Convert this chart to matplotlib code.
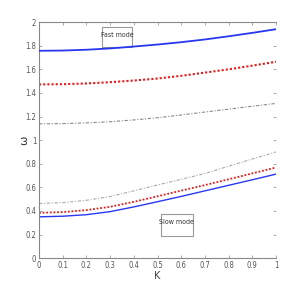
import numpy as np
import matplotlib
matplotlib.use("Agg")
import matplotlib.pyplot as plt
from matplotlib.patches import Rectangle

k = [0.0, 0.1, 0.2, 0.3, 0.4, 0.5, 0.6, 0.7, 0.8, 0.9, 1.0]
fast_blue = [1.757, 1.759, 1.766, 1.777, 1.793, 1.810, 1.830, 1.853, 1.880, 1.909, 1.940]
fast_red = [1.472, 1.474, 1.480, 1.491, 1.505, 1.522, 1.545, 1.572, 1.600, 1.631, 1.664]
fast_gray = [1.138, 1.140, 1.146, 1.156, 1.171, 1.190, 1.213, 1.238, 1.262, 1.287, 1.311]
slow_gray = [0.463, 0.470, 0.490, 0.522, 0.570, 0.620, 0.668, 0.717, 0.779, 0.840, 0.900]
slow_red = [0.384, 0.390, 0.407, 0.435, 0.477, 0.524, 0.572, 0.619, 0.668, 0.718, 0.768]
slow_blue = [0.350, 0.355, 0.368, 0.394, 0.434, 0.478, 0.523, 0.570, 0.617, 0.664, 0.712]

xticks = [0, 0.1, 0.2, 0.3, 0.4, 0.5, 0.6, 0.7, 0.8, 0.9, 1]
xticklabels = ["0", "0.1", "0.2", "0.3", "0.4", "0.5", "0.6", "0.7", "0.8", "0.9", "1"]
yticks = [0, 0.2, 0.4, 0.6, 0.8, 1, 1.2, 1.4, 1.6, 1.8, 2]
yticklabels = ["0", "0.2", "0.4", "0.6", "0.8", "1", "1.2", "1.4", "1.6", "1.8", "2"]

fig = plt.figure(figsize=(3.05, 2.91), dpi=100)
ax = fig.add_axes([0.128, 0.113, 0.777, 0.811])

blue = "#2838f0"
red = "#e81818"
gray = "#8a8a8a"

ax.plot(k, fast_blue, color=blue, lw=1.3, ls="-", zorder=7)
ax.plot(k, fast_red, color=red, lw=1.5, ls=(0, (1, 1)))
ax.plot(k, fast_gray, color=gray, lw=0.8, ls=(0, (3, 1.5, 1, 1.5)))
ax.plot(k, slow_gray, color="#aaaaaa", lw=0.8, ls=(0, (3, 1.5, 1, 1.5)))
ax.plot(k, slow_red, color=red, lw=1.3, ls=(0, (1, 1)))
ax.plot(k, slow_blue, color=blue, lw=1.0, ls="-")

ax.set_xlim(0, 1)
ax.set_ylim(0, 2)
ax.set_xticks(xticks)
ax.set_xticklabels(xticklabels)
ax.set_yticks(yticks)
ax.set_yticklabels(yticklabels)

for lab in ax.get_xticklabels() + ax.get_yticklabels():
    lab.set_fontsize(5.5)
    lab.set_color("#555555")
    lab.set_fontstretch("condensed")

ax.tick_params(direction="in", length=2.5, width=0.5, color="#888888",
               top=True, right=True, pad=2)
for s in ["left", "bottom", "top"]:
    ax.spines[s].set_color("#888888")
    ax.spines[s].set_linewidth(0.8)
ax.spines["right"].set_visible(False)

ax.set_xlabel("K", fontsize=7, color="#444444", labelpad=1)
ax.set_ylabel("ω", fontsize=8, color="#333333")
ax.yaxis.set_label_coords(-0.04, 0.5)

# annotation boxes
ax.add_patch(Rectangle((0.266, 1.785), 0.126, 0.173, fc="white", ec="#999999", lw=0.8, zorder=5))
ax.text(0.329, 1.89, "Fast mode", fontsize=5, color="#333333", fontstretch="condensed",
        ha="center", va="center", zorder=6)
ax.add_patch(Rectangle((0.513, 0.186), 0.135, 0.187, fc="white", ec="#999999", lw=0.8, zorder=5))
ax.text(0.58, 0.305, "Slow mode", fontsize=5, color="#333333", fontstretch="condensed",
        ha="center", va="center", zorder=6)

fig.savefig("out.png", dpi=100)
